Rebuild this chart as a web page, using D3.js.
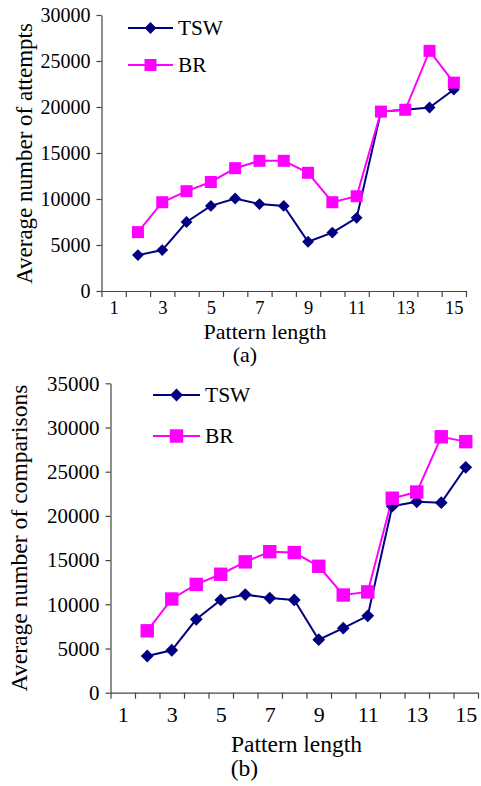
<!DOCTYPE html>
<html>
<head>
<meta charset="utf-8">
<script src="https://cdn.jsdelivr.net/npm/d3@7"></script>
<style>
  body { margin: 0; background: #fff; }
  svg text { font-family: "Liberation Serif", "DejaVu Serif", serif; }
</style>
</head>
<body>
<svg width="481" height="786"></svg>
<script>
// categories on the x axis (Excel style category axis)
const lengths = [1, 2, 3, 4, 5, 6, 7, 8, 9, 10, 11, 12, 13, 14, 15]
const xTickLabels = [1, 3, 5, 7, 9, 11, 13, 15]
const dataLengths = [2, 3, 4, 5, 6, 7, 8, 9, 10, 11, 12, 13, 14, 15]

// (a) average number of attempts
const attemptsTSW = [3900, 4450, 7500, 9250, 10050, 9450, 9250, 5350, 6350, 7950, 19500, 19700, 19950, 21900]
const attemptsBR = [6400, 9650, 10850, 11850, 13350, 14150, 14150, 12850, 9650, 10300, 19500, 19700, 26100, 22650]
const attemptsTicks = [0, 5000, 10000, 15000, 20000, 25000, 30000]

// (b) average number of comparisons
const compTSW = [4150, 4800, 8300, 10500, 11100, 10700, 10500, 6000, 7300, 8700, 21100, 21600, 21500, 25500]
const compBR = [7000, 10600, 12250, 13400, 14800, 15950, 15850, 14300, 11050, 11400, 22000, 22700, 28950, 28400]
const compTicks = [0, 5000, 10000, 15000, 20000, 25000, 30000, 35000]

const navy = "#000080"
const magenta = "#ff00ff"

const svg = d3.select("svg")

function panel(p) {
    const g = svg.append("g")

    const x = d3.scaleBand()
        .domain(lengths)
        .range([p.left, p.right])
    const xl = d3.scaleLinear()
        .domain([0.5, 15.5])
        .range([p.left, p.right])
    const y = d3.scaleLinear()
        .domain([0, d3.max(p.yTicks)])
        .range([p.bottom, p.top])

    // y axis
    const yAxis = g.append("g")
        .attr("transform", `translate(${p.left},0)`)
        .call(d3.axisLeft(y).tickValues(p.yTicks).tickFormat(d3.format("d")).tickSize(5).tickPadding(p.yPad).tickSizeOuter(0))
    yAxis.attr("font-family", null)
    yAxis.selectAll("text")
        .style("font-size", p.tickFont + "px")
        .attr("fill", "#000")

    // x axis: ticks on category boundaries
    g.append("g")
        .attr("transform", `translate(0,${p.bottom})`)
        .call(d3.axisBottom(xl).tickValues(d3.range(0.5, 16, 1)).tickSize(6).tickFormat("").tickSizeOuter(0))

    // x labels at every other category
    const xLab = g.append("g")
        .attr("transform", `translate(0,${p.bottom})`)
        .call(d3.axisBottom(xl).tickValues(xTickLabels).tickSize(0).tickPadding(p.xPad))
    xLab.attr("font-family", null)
    xLab.select(".domain").remove()
    xLab.selectAll("text")
        .style("font-size", p.xTickFont + "px")
        .attr("fill", "#000")

    g.selectAll(".domain, .tick line")
        .attr("stroke", "#444")
        .attr("stroke-width", 1.2)

    // titles
    g.append("text")
        .attr("transform", `translate(${p.yTitleX},${p.yTitleY}) rotate(-90)`)
        .attr("text-anchor", "middle")
        .style("font-size", p.yTitleFont + "px")
        .text(p.yTitle)

    g.append("text")
        .attr("x", p.xTitleX)
        .attr("y", p.xTitleY)
        .attr("text-anchor", "middle")
        .style("font-size", p.xTitleFont + "px")
        .text("Pattern length")

    g.append("text")
        .attr("x", p.capX)
        .attr("y", p.capY)
        .attr("text-anchor", "middle")
        .style("font-size", p.xTitleFont + "px")
        .text(p.caption)

    const line = d3.line()
        .x((d, i) => x(dataLengths[i]) + x.bandwidth() / 2)
        .y(d => y(d))

    const series = [
        { name: "TSW", values: p.tsw, color: navy, size: p.diamond, rot: 45 },
        { name: "BR", values: p.br, color: magenta, size: p.square, rot: 0 },
    ]

    // lines first, then markers, BR on top
    series.forEach(s => {
        g.append("path")
            .datum(s.values)
            .attr("fill", "none")
            .attr("stroke", s.color)
            .attr("stroke-width", 2)
            .attr("d", line)
    })
    series.forEach(s => {
        g.selectAll(null)
            .data(s.values)
            .enter().append("path")
            .attr("d", d3.symbol(d3.symbolSquare, s.size))
            .attr("fill", s.color)
            .attr("transform", (d, i) => `translate(${x(dataLengths[i]) + x.bandwidth() / 2},${y(d)}) rotate(${s.rot})`)
    })

    // legend
    series.forEach((s, i) => {
        const ly = p.legY[i]
        g.append("line")
            .attr("x1", p.legX)
            .attr("x2", p.legX + p.legW)
            .attr("y1", ly)
            .attr("y2", ly)
            .attr("stroke", s.color)
            .attr("stroke-width", 2)
        g.append("path")
            .attr("d", d3.symbol(d3.symbolSquare, s.size))
            .attr("fill", s.color)
            .attr("transform", `translate(${p.legX + p.legW / 2},${ly}) rotate(${s.rot})`)
        g.append("text")
            .attr("x", p.legX + p.legW + 5)
            .attr("y", ly + p.legTextDy)
            .style("font-size", p.legFont + "px")
            .text(s.name)
    })
}

panel({
    left: 101.5, right: 466, top: 15, bottom: 291,
    yTicks: attemptsTicks, tsw: attemptsTSW, br: attemptsBR,
    tickFont: 20, xTickFont: 18.5, yTitleFont: 23, xTitleFont: 22, legFont: 21.3,
    yPad: 6, xPad: 10,
    yTitle: "Average number of attempts", yTitleX: 31.5, yTitleY: 153.5,
    xTitleX: 265, xTitleY: 338.5,
    caption: "(a)", capX: 245, capY: 362,
    diamond: 70, square: 144,
    legX: 128, legW: 45, legY: [28, 65], legTextDy: 6.5,
})

panel({
    left: 110.5, right: 478, top: 383.3, bottom: 692.7,
    yTicks: compTicks, tsw: compTSW, br: compBR,
    tickFont: 21, xTickFont: 22, yTitleFont: 23.6, xTitleFont: 23.5, legFont: 21.5,
    yPad: 6, xPad: 13.5,
    yTitle: "Average number of comparisons", yTitleX: 27, yTitleY: 538,
    xTitleX: 296.5, xTitleY: 751.5,
    caption: "(b)", capX: 244.5, capY: 776,
    diamond: 82, square: 180,
    legX: 153, legW: 47, legY: [395, 436], legTextDy: 7,
})
</script>
</body>
</html>
